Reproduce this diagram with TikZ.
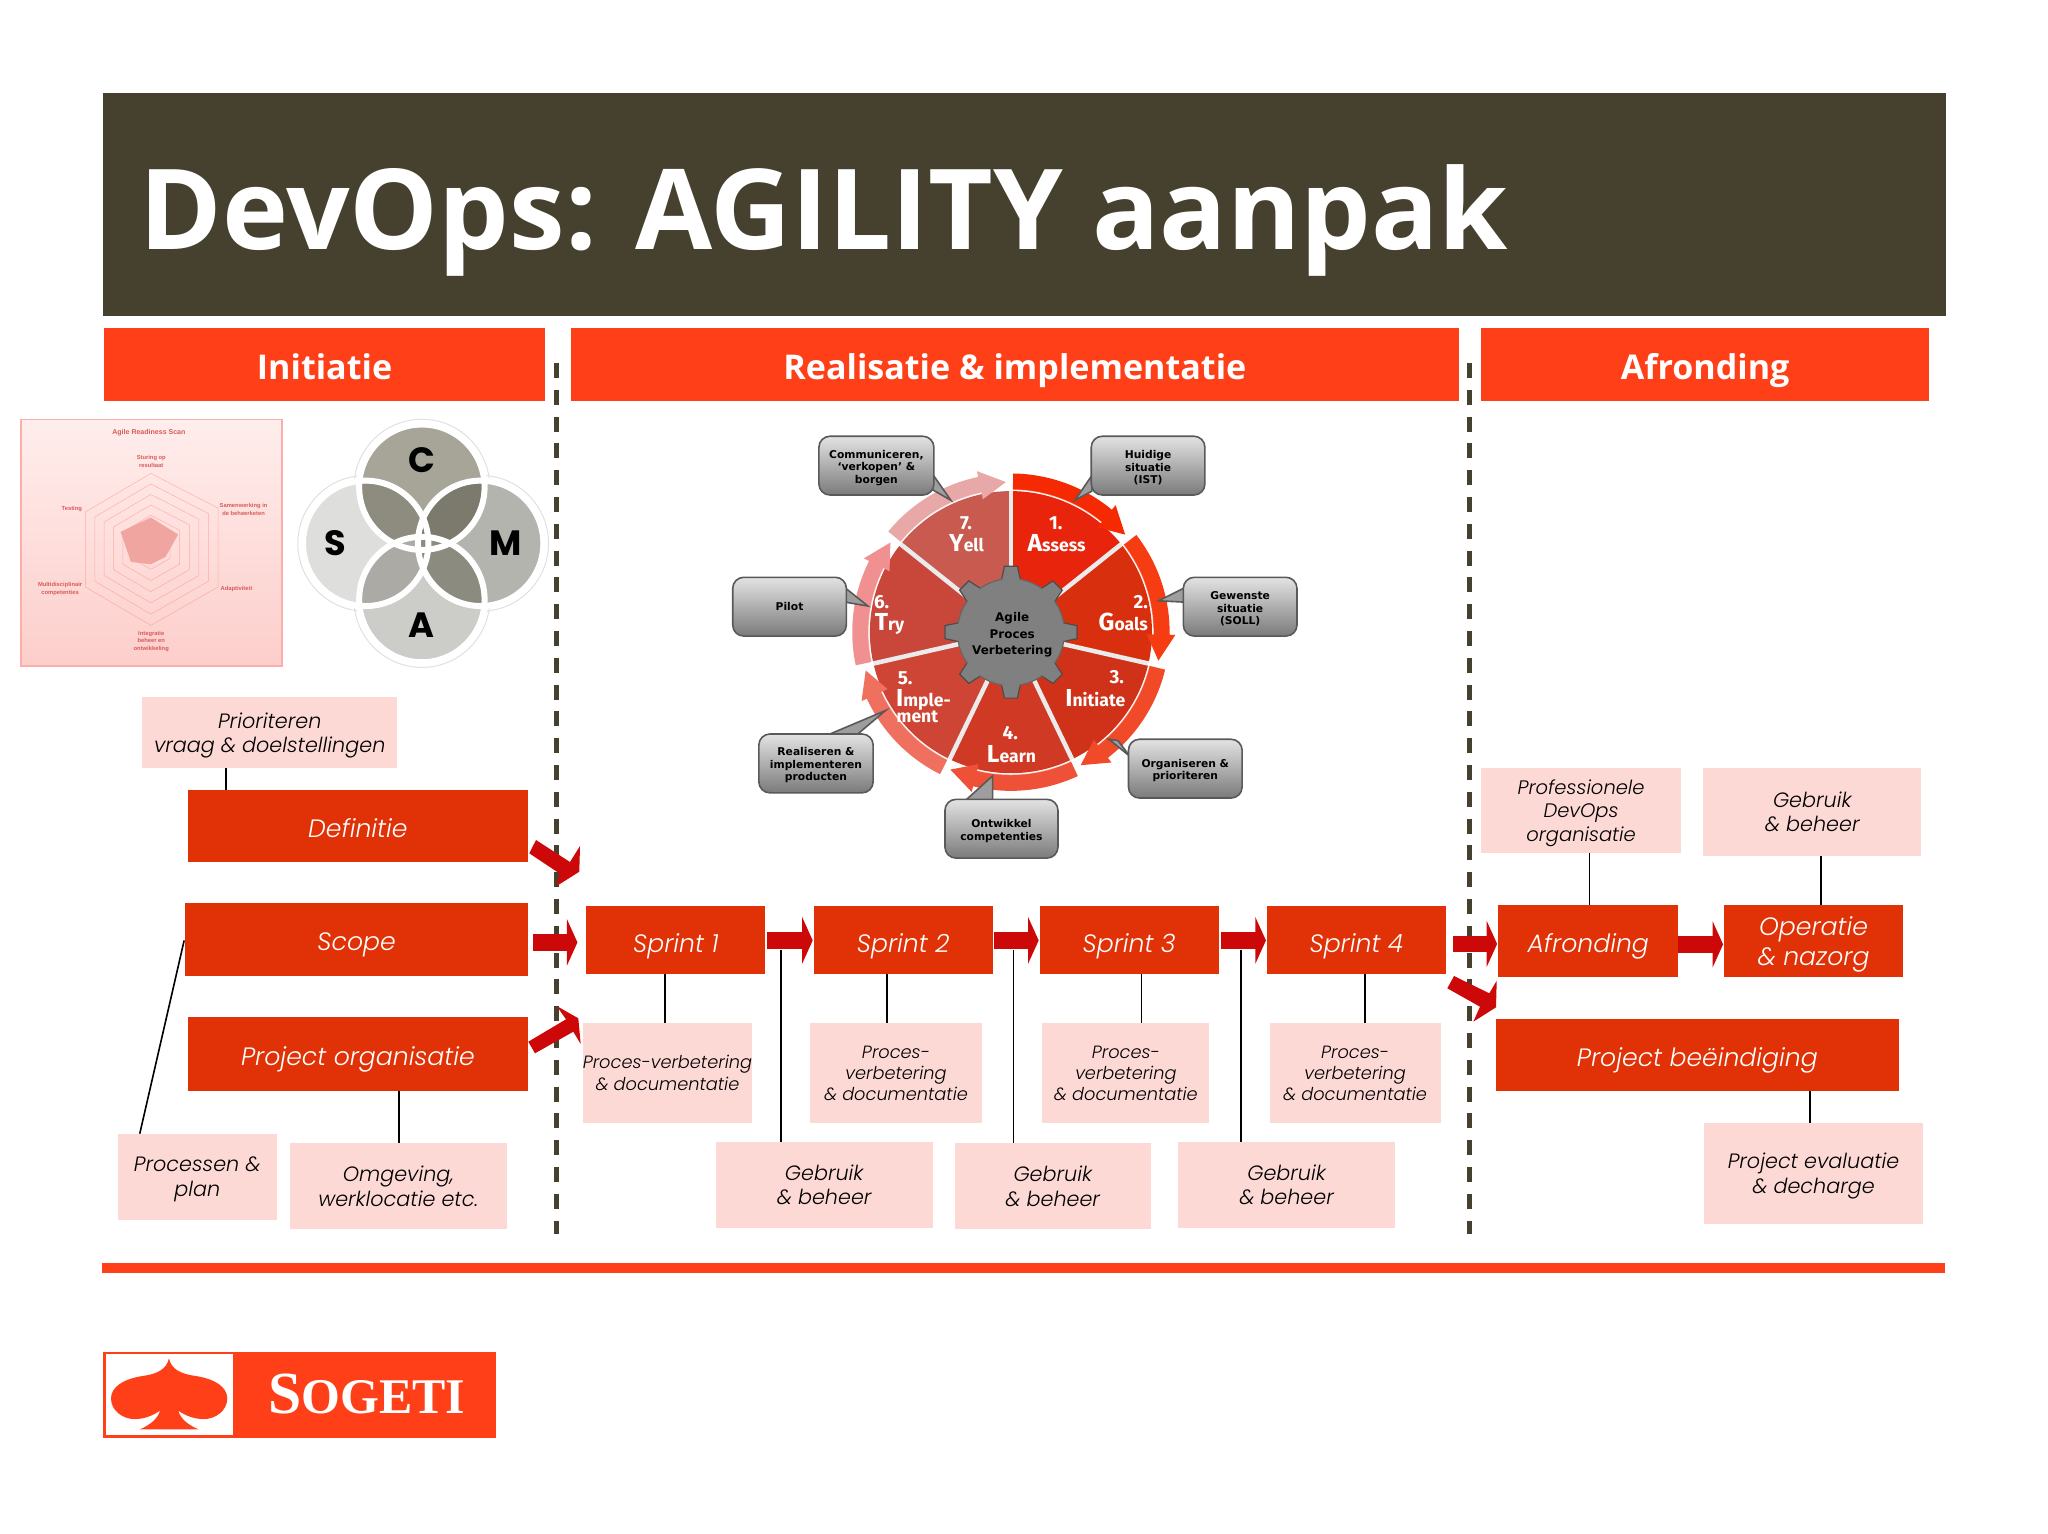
\documentclass[tikz,border=0pt]{standalone}
\usepackage{fontspec}
\usetikzlibrary{arrows.meta,calc}
\newfontfamily\titlef{Open Sans}
\newfontfamily\boxf{Poppins Light Italic}
\newfontfamily\scamf{Poppins}
\newfontfamily\callf{DejaVu Sans}
\newfontfamily\wheelf{Fira Sans}
\newfontfamily\radarf{Liberation Sans}
\newfontfamily\sogf{Liberation Serif}
\definecolor{bar}{HTML}{FF3F17}
\definecolor{olive}{HTML}{46412F}
\definecolor{redbox}{HTML}{E03206}
\definecolor{pinkbox}{HTML}{FDD9D5}
\definecolor{arrowred}{HTML}{CC0808}
\definecolor{radartxt}{HTML}{D85A5A}
\tikzset{
  hdr/.style={fill=bar,text=white,inner sep=0,outer sep=0,text height=3.6mm,text depth=0.6mm,font=\titlef\bfseries\fontsize{9.7}{12}\selectfont},
  rbox/.style={fill=redbox,text=white,inner sep=0,outer sep=0,align=center,text depth=0pt,font=\boxf\fontsize{7.15}{8.5}\selectfont,execute at begin node={\rule{0pt}{6.6pt}}},
  pbox/.style={fill=pinkbox,text=black,inner sep=0,outer sep=0,align=center,text depth=0pt,font=\boxf\fontsize{5.9}{7.05}\selectfont,execute at begin node={\rule{0pt}{5.2pt}}},
  pboxt/.style={pbox,font=\boxf\fontsize{5.05}{5.95}\selectfont,execute at begin node={\rule{0pt}{4.5pt}}},
  pboxm/.style={pbox,font=\boxf\fontsize{5.55}{6.6}\selectfont,execute at begin node={\rule{0pt}{4.85pt}}},
  conn/.style={draw=black,line width=0.16mm},
  flow/.style={draw=arrowred,line width=1.65mm,-{Triangle[length=1.05mm,width=4.6mm]}},
  dashline/.style={draw=olive,line width=0.43mm,dash pattern=on 1.5mm off 1.18mm},
  call/.style={rounded corners=1.1mm,draw=black!65,line width=0.16mm,top color=black!11,bottom color=black!52,inner sep=0,outer sep=0,align=center,text=black,font=\callf\bfseries\fontsize{3.05}{3.55}\selectfont},
  ptr/.style={draw=black!65,line width=0.16mm,fill=black!38},
  wnum/.style={text=white,inner sep=0,font=\wheelf\bfseries\fontsize{5.4}{6}\selectfont},
  radar/.style={text=radartxt,inner sep=0,align=center,font=\radarf\bfseries\fontsize{1.65}{2.2}\selectfont},
  scam/.style={text=black,inner sep=0,font=\scamf\bfseries\fontsize{10}{11}\selectfont},
}
\newcommand\mkbox[7]{\node[#2,minimum width={(#5-#3)*0.13061mm},minimum height={(#6-#4)*0.13061mm}] (#1) at ({(#3+#5)/2},{(#4+#6)/2}) {#7};}
\newcommand\wword[2]{{\fontsize{7}{8}\selectfont #1}{\fontsize{5}{6}\selectfont #2}}
\newcommand\mkcall[9]{\fill[ptr] #7 -- #8 -- #9 -- cycle;\node[call,minimum width={(#4-#2)*0.13061mm},minimum height={(#5-#3)*0.13061mm}] (#1) at ({(#2+#4)/2},{(#3+#5)/2}) {#6};}
\begin{document}
\begin{tikzpicture}[x=0.13061mm,y=-0.13061mm]
\useasboundingbox (0,0) rectangle (1568,1174);
% title band
\fill[olive] (79,71) rectangle (1490,242);
\node[anchor=base west,text=white,inner sep=0,font=\titlef\bfseries\fontsize{31.8}{36}\selectfont] (title) at (106.5,191) {DevOps: AGILITY aanpak};
% headers
\mkbox{h1}{hdr}{80}{251}{417}{307}{Initiatie}
\mkbox{h2}{hdr}{437}{251}{1117}{307}{Realisatie \& implementatie}
\mkbox{h3}{hdr}{1134}{251}{1477}{307}{Afronding}
% dashed
\coordinate (d1a) at (426,278);\coordinate (d1b) at (426,945);
\coordinate (d2a) at (1125,278);\coordinate (d2b) at (1125,945);
\draw[dashline] (d1a) -- (d1b);
\draw[dashline] (d2a) -- (d2b);
% bottom rule
\fill[bar] (78,967) rectangle (1489,975);
% radar panel
\shade[top color=pinkbox!45,bottom color=pinkbox!95!red,draw=pinkbox!80!red,line width=0.15mm] (16,321) rectangle (216,510);
\node[radar,font=\radarf\bfseries\fontsize{2}{2.4}\selectfont] (rt) at (114,331) {Agile Readiness Scan};
\foreach \f in {1,0.857,0.714,0.571,0.429,0.286,0.143}{
  \draw[red!35!pinkbox,line width=0.05mm,opacity=.6] ($(115.5,418.7)!\f!(115.5,362.5)$) -- ($(115.5,418.7)!\f!(167,389)$) -- ($(115.5,418.7)!\f!(167,449.4)$) -- ($(115.5,418.7)!\f!(115.5,478.8)$) -- ($(115.5,418.7)!\f!(65.4,449.4)$) -- ($(115.5,418.7)!\f!(65.4,392)$) -- cycle;}
\fill[fill={rgb,255:red,240;green,165;blue,160}] (115.5,396.2) -- (136.4,409.2) -- (126.7,426.4) -- (115.5,432) -- (100.2,430.2) -- (92.4,407.2) -- cycle;
\node[radar] (r1) at (115.8,353) {Sturing op\\resultaat};
\node[radar] (r2) at (186.5,390) {Samenwerking in\\de beheerketen};
\node[radar] (r3) at (181,450.7) {Adaptiviteit};
\node[radar] (r4) at (115.8,491) {Integratie\\beheer en\\ontwikkeling};
\node[radar] (r5) at (46,451) {Multidisciplinair\\competenties};
\node[radar] (r6) at (55,390) {Testing};
% SCAM circles
\coordinate (cC) at (323,373);\coordinate (cS) at (280,416);\coordinate (cM) at (368,416);\coordinate (cA) at (323,459);
\foreach \c in {cC,cS,cM,cA}{\draw[black!12,line width=0.1mm] (\c) circle[radius=52];}
\fill[fill={rgb,255:red,166;green,165;blue,152}] (cC) circle[radius=46];
\fill[fill={rgb,255:red,180;green,180;blue,174}] (cM) circle[radius=46];
\fill[fill={rgb,255:red,204;green,204;blue,200}] (cA) circle[radius=46];
\fill[fill={rgb,255:red,222;green,222;blue,220}] (cS) circle[radius=46];
\begin{scope}\clip (cC) circle[radius=46];\fill[fill={rgb,255:red,142;green,140;blue,126}] (cS) circle[radius=46];\fill[fill={rgb,255:red,124;green,122;blue,108}] (cM) circle[radius=46];\end{scope}
\begin{scope}\clip (cA) circle[radius=46];\fill[fill={rgb,255:red,171;green,170;blue,164}] (cS) circle[radius=46];\fill[fill={rgb,255:red,140;green,139;blue,128}] (cM) circle[radius=46];\end{scope}
\foreach \c in {cC,cM,cA,cS}{\draw[white,line width=0.6mm] (\c) circle[radius=48];}
\node[scam] (lc) at (323,352) {C};
\node[scam] (ls) at (257,416) {S};
\node[scam] (lm) at (387,416) {M};
\node[scam] (la) at (323,479) {A};
% wheel
\begin{scope}[shift={(774,484)},y=0.13061mm]
\foreach \i/\wc/\rc in {1/E8240C/F62A02,2/D8300F/F53C12,3/CF3218/F04A28,4/D03A25/EE5038,5/CE4535/F07060,6/C9463B/F09090,7/C85A50/E8A8A8}{
  \pgfmathsetmacro\aa{90-(\i-1)*51.4286-0.8}
  \pgfmathsetmacro\ab{90-\i*51.4286+0.8}
  \pgfmathsetmacro\ae{90-(\i-1)*51.4286-49.5}
  \pgfmathsetmacro\ah{\ae+10}
  \definecolor{wc}{HTML}{\wc}\definecolor{rc}{HTML}{\rc}
  \fill[wc] (\aa:30) -- (\aa:108) arc[start angle=\aa,end angle=\ab,radius={108*0.13061mm}] -- (\ab:30) -- cycle;
  \fill[rc] (\aa:109) -- (\aa:121.5) arc[start angle=\aa,end angle=\ah,radius={121.5*0.13061mm}] -- (\ah:126) -- (\ae:115) -- (\ah:104) -- (\ah:109) arc[start angle=\ah,end angle=\aa,radius={109*0.13061mm}] -- cycle;
  \draw[white,opacity=.55,line width=0.1mm] (\aa:109) arc[start angle=\aa,end angle=\ah,radius={109*0.13061mm}];
}
\foreach \i in {0,...,6}{
  \pgfmathsetmacro\aa{90-\i*51.4286}
  \draw[black!8,line width=0.45mm] (\aa:30) -- (\aa:108);}
% gear
\foreach \t in {0,45,...,315}{
  \fill[black!50,draw=black!70,line width=0.12mm,rotate=\t] (36,-8) -- (50.5,-5) -- (50.5,5) -- (36,8) -- cycle;}
\fill[black!50,draw=black!60,line width=0.12mm] (0,0) circle[radius=41];
\foreach \t in {0,45,...,315}{
  \fill[black!50,rotate=\t] (35,-7.4) -- (43,-6) -- (43,6) -- (35,7.4) -- cycle;}
\end{scope}
\node[inner sep=0,align=center,text=black,font=\callf\bfseries\fontsize{3.4}{4.8}\selectfont] (gear) at (775,486) {Agile\\Proces\\Verbetering};
\node[wnum] (n1) at (808.3,400.8) {1.};
\node[wnum] (w1) at (809,416.2) {\wword{A}{ssess}};
\node[wnum] (n2) at (873.4,461) {2.};
\node[wnum] (w2) at (860,476.4) {\wword{G}{oals}};
\node[wnum] (n3) at (855,518.3) {3.};
\node[wnum] (w3) at (838.6,534.3) {\wword{I}{nitiate}};
\node[wnum] (n4) at (773.5,561) {4.};
\node[wnum] (w4) at (774.4,577.2) {\wword{L}{earn}};
\node[wnum] (n5) at (693,519.6) {5.};
\node[wnum] (w5) at (707,535.6) {\wword{I}{mple-}};
\node[wnum] (w5b) at (702.4,549) {\fontsize{5}{6}\selectfont ment};
\node[wnum] (n6) at (675,461) {6.};
\node[wnum] (w6) at (681,477.6) {\wword{T}{ry}};
\node[wnum] (n7) at (739.6,400.8) {7.};
\node[wnum] (w7) at (740,416) {\wword{Y}{ell}};
% callouts
\mkcall{cb1}{627}{334}{715}{379}{\rule{0pt}{3.5pt}Communiceren,\\‘verkopen’ \&\\borgen}{(714,363)}{(728,383)}{(714,375)}
\mkcall{cb2}{835.5}{334}{922.5}{379}{\rule{0pt}{3.5pt}Huidige\\situatie\\(IST)}{(836,364)}{(823,383)}{(836,376)}
\mkcall{cb3}{906}{442}{993}{487}{\rule{0pt}{3.5pt}Gewenste\\situatie\\(SOLL)}{(907,450)}{(887,460)}{(907,461)}
\mkcall{cb4}{864}{566}{951}{611}{\rule{0pt}{3.5pt}Organiseren \&\\prioriteren}{(856,567)}{(849,566)}{(865,579)}
\mkcall{cb5}{723.5}{612}{810}{657}{\rule{0pt}{3.5pt}Ontwikkel\\competenties}{(739,613)}{(760,594)}{(760,613)}
\mkcall{cb6}{581}{562}{668.5}{607}{\rule{0pt}{3.5pt}Realiseren \&\\implementeren\\producten}{(633,563)}{(678,544)}{(655.5,563)}
\mkcall{cb7}{561}{442}{648}{487}{Pilot}{(647,450)}{(664.5,464)}{(647,461)}
% boxes
\mkbox{prio}{pbox}{109}{534}{304}{588}{Prioriteren\\vraag \& doelstellingen}
\mkbox{def}{rbox}{144}{605}{404}{660}{Definitie}
\mkbox{scope}{rbox}{142}{691}{404}{747}{Scope}
\mkbox{porg}{rbox}{144}{779}{404}{835}{Project organisatie}
\mkbox{proc}{pbox}{90}{868}{212}{934}{Processen \&\\plan}
\mkbox{omg}{pbox}{222}{875}{388}{941}{Omgeving,\\werklocatie etc.}
\mkbox{sp1}{rbox}{449}{694}{586}{746}{Sprint 1}
\mkbox{sp2}{rbox}{623}{694}{760}{746}{Sprint 2}
\mkbox{sp3}{rbox}{796}{694}{933}{746}{Sprint 3}
\mkbox{sp4}{rbox}{970}{694}{1107}{746}{Sprint 4}
\mkbox{pv1}{pboxt}{448}{783}{574}{860}{Proces-verbetering\\[0.3pt]\& documentatie}
\mkbox{pv2}{pboxt}{620}{783}{752}{860}{Proces-\\verbetering\\\& documentatie}
\mkbox{pv3}{pboxt}{798}{783}{926}{860}{Proces-\\verbetering\\\& documentatie}
\mkbox{pv4}{pboxt}{972}{783}{1103}{860}{Proces-\\verbetering\\\& documentatie}
\mkbox{gb1}{pbox}{548}{874}{714}{940}{Gebruik\\\& beheer}
\mkbox{gb2}{pbox}{731}{875}{881}{941}{Gebruik\\\& beheer}
\mkbox{gb3}{pbox}{902}{874}{1068}{940}{Gebruik\\\& beheer}
\mkbox{afr}{rbox}{1147}{693}{1285}{748}{Afronding}
\mkbox{oper}{rbox}{1320}{693}{1457}{748}{Operatie\\\& nazorg}
\mkbox{pbe}{rbox}{1145}{780}{1454}{835}{Project beëindiging}
\mkbox{prof}{pboxm}{1134}{588}{1287}{653}{Professionele\\DevOps\\organisatie}
\mkbox{gb4}{pbox}{1304}{588}{1471}{655}{Gebruik\\\& beheer}
\mkbox{peval}{pbox}{1305}{860}{1472}{937}{Project evaluatie\\\& decharge}
% thin connectors
\draw[conn] (prio.south -| 173,0) -- (def.north -| 173,0);
\coordinate (sc) at (141,720);
\coordinate (pr) at (107,868);
\draw[conn] (sc) -- (pr);
\draw[conn] (porg.south -| 305.5,0) -- (omg.north -| 305.5,0);
\draw[conn] (sp1.south -| 509,0) -- (pv1.north -| 509,0);
\draw[conn] (sp2.south -| 679,0) -- (pv2.north -| 679,0);
\draw[conn] (sp3.south -| 874,0) -- (pv3.north -| 874,0);
\draw[conn] (sp4.south -| 1045,0) -- (pv4.north -| 1045,0);
\coordinate (g1) at (598,727);\coordinate (g2) at (776,727);\coordinate (g3) at (950,727);
\draw[conn] (g1) -- (gb1.north -| g1);
\draw[conn] (g2) -- (gb2.north -| g2);
\draw[conn] (g3) -- (gb3.north -| g3);
\draw[conn] (prof.south -| 1217,0) -- (afr.north -| 1217,0);
\draw[conn] (gb4.south -| 1394,0) -- (oper.north -| 1394,0);
\draw[conn] (pbe.south -| 1386,0) -- (peval.north -| 1386,0);
% block arrows
\draw[flow,shorten <=0.5mm,shorten >=0.9mm] ([yshift=-0.2mm]sp1.west -| scope.east) -- ([yshift=-0.2mm]sp1.west);
\draw[flow,shorten <=0.15mm,shorten >=0.1mm] (sp1.east) -- (sp2.west);
\draw[flow,shorten <=0.15mm,shorten >=0.1mm] (sp2.east) -- (sp3.west);
\draw[flow,shorten <=0.25mm,shorten >=0.1mm] (sp3.east) -- (sp4.west);
\draw[flow,shorten <=0.75mm,shorten >=0.1mm] ([yshift=-0.35mm]sp4.east) -- ([yshift=-0.35mm]sp4.east -| afr.west);
\draw[flow,shorten >=0.1mm] ([yshift=-0.33mm]afr.east) -- ([yshift=-0.33mm]oper.west);
\begin{scope}[x=0.1mm,y=-0.1mm]
\fill[arrowred] (536,840) -- (570,862) -- (580,846) -- (579.3,871.7) -- (556.7,886) -- (559.3,873.3) -- (529.3,853.3) -- cycle;
\fill[arrowred] (528.3,1041.7) -- (566,1019.3) -- (556.7,1006) -- (578.3,1018.3) -- (580.7,1044) -- (573.3,1031.7) -- (535,1053.3) -- cycle;
\fill[arrowred] (1454,976) -- (1489.3,993.3) -- (1496.7,980.7) -- (1496,1007.3) -- (1473.3,1021.7) -- (1480,1006.7) -- (1447.3,988.3) -- cycle;
\end{scope}
% logo
\fill[bar] (79,1035) rectangle (380,1101);
\fill[white] (81,1037) rectangle (178.5,1099);
\fill[bar] (129.4,1040) .. controls (131,1048) and (138,1052) .. (150,1053.5) .. controls (165,1056) and (174,1062) .. (174,1070.7) .. controls (174,1080) and (165,1086.5) .. (156,1086.5) .. controls (149,1086.5) and (142,1084) .. (136.5,1080) .. controls (138,1086) and (144,1091) .. (152,1094.4) -- (107,1094.4) .. controls (115,1091) and (121,1086) .. (122.5,1080) .. controls (117,1084) and (110,1086.5) .. (103,1086.5) .. controls (94,1086.5) and (85,1080) .. (85,1070.7) .. controls (85,1062) and (94,1056) .. (109,1053.5) .. controls (121,1052) and (127.5,1048) .. (129.4,1040) -- cycle;
\node[anchor=base west,inner sep=0,text=white,font=\sogf\bfseries] (sog) at (205,1082.5) {\fontsize{17}{18}\selectfont S\fontsize{14.2}{18}\selectfont OGETI};
\end{tikzpicture}
\end{document}
